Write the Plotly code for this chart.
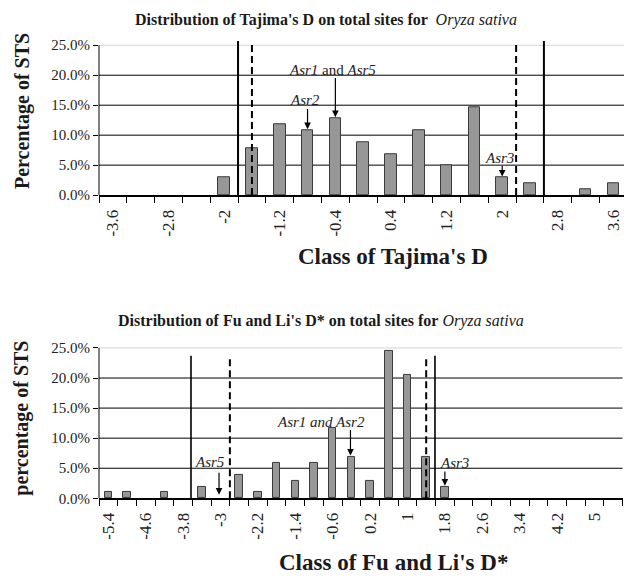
import plotly.graph_objects as go

# ---------------- data ----------------
taj_classes = ["-3.6", "-3.2", "-2.8", "-2.4", "-2", "-1.6", "-1.2", "-0.8", "-0.4", "0",
               "0.4", "0.8", "1.2", "1.6", "2", "2.4", "2.8", "3.2", "3.6"]
taj_pct = [0, 0, 0, 0, 2.94, 7.84, 11.76, 10.78, 12.75, 8.82,
           6.86, 10.78, 4.90, 14.71, 2.94, 1.96, 0, 0.98, 1.96]

fu_classes = ["-5.4", "-5", "-4.6", "-4.2", "-3.8", "-3.4", "-3", "-2.6", "-2.2", "-1.8",
              "-1.4", "-1", "-0.6", "-0.2", "0.2", "0.6", "1", "1.4", "1.8", "2.2",
              "2.6", "3", "3.4", "3.8", "4.2", "4.6", "5", "5.4"]
fu_pct = [0.98, 0.98, 0, 0.98, 0, 1.96, 0, 3.92, 0.98, 5.88,
          2.94, 5.88, 11.76, 6.86, 2.94, 24.51, 20.59, 6.86, 1.96, 0,
          0, 0, 0, 0, 0, 0, 0, 0]

y_ticks = [0, 5, 10, 15, 20, 25]
y_ticktext = ["0.0%", "5.0%", "10.0%", "15.0%", "20.0%", "25.0%"]

# critical-value lines (class-index positions)
taj_solid = [4.5, 15.5]
taj_dashed = [5.0, 14.5]
fu_solid = [4.42, 17.47]
fu_dashed = [6.5, 17.0]

# ---------------- figure ----------------
W, H = 624, 581
SERIF = "Liberation Serif"
BAR_FILL = "#979797"
BAR_LINE = "#3a3a3a"

fig = go.Figure()

taj_x = list(range(len(taj_classes)))
fu_x = list(range(len(fu_classes)))

def nz(vals):
    return [v if v > 0 else None for v in vals]

fig.add_trace(go.Bar(x=taj_x, y=nz(taj_pct), width=0.42,
                     marker=dict(color=BAR_FILL, line=dict(color=BAR_LINE, width=1)),
                     xaxis="x", yaxis="y", showlegend=False))
fig.add_trace(go.Bar(x=fu_x, y=nz(fu_pct), width=0.40,
                     marker=dict(color=BAR_FILL, line=dict(color=BAR_LINE, width=1)),
                     xaxis="x2", yaxis="y2", showlegend=False))

def py(px):
    return 1 - px / H

top_dom = [py(196.5), py(196.5 - 26 * 6.1)]
bot_dom = [py(505), py(505 - 26 * 6.12)]

def xaxis_cfg(classes, xr, dom, anchor):
    n = len(classes)
    labels_idx = list(range(0, n, 2))
    return dict(
        domain=dom, range=xr, anchor=anchor, showgrid=False, zeroline=False,
        showline=True, linecolor="black", linewidth=1.5,
        tickmode="array", tickvals=labels_idx,
        ticktext=[classes[i] for i in labels_idx], ticks="", tickangle=-90,
        tickfont=dict(family=SERIF, size=17, color="#222"),
        ticklabelstandoff=6,
        minor=dict(tickmode="array", tickvals=[i - 0.5 for i in range(n + 1)],
                   ticks="outside", ticklen=6, tickcolor="black", tickwidth=1, showgrid=False),
        fixedrange=True,
    )

def yaxis_cfg(dom, anchor):
    return dict(
        domain=dom, range=[0, 26], anchor=anchor, showgrid=False, zeroline=False,
        showline=False, tickmode="array", tickvals=y_ticks, ticktext=y_ticktext,
        ticks="outside", ticklen=5, tickcolor="black", tickwidth=1,
        tickfont=dict(family=SERIF, size=15, color="#222"), fixedrange=True,
    )

fig.update_layout(
    width=W, height=H, margin=dict(l=0, r=0, t=0, b=0),
    paper_bgcolor="white", plot_bgcolor="white",
    xaxis=xaxis_cfg(taj_classes, [-0.5, 18.38], [99 / W, 1.0], "y"),
    yaxis=yaxis_cfg(top_dom, "x"),
    xaxis2=xaxis_cfg(fu_classes, [-0.5, 27.5], [99 / W, 622.5 / W], "y2"),
    yaxis2=yaxis_cfg(bot_dom, "x2"),
    bargap=0, showlegend=False,
)

shapes = []
for xr, yr in (("x", "y"), ("x2", "y2")):
    for g in (5, 10, 15, 20):
        shapes.append(dict(type="line", xref=xr + " domain", yref=yr, x0=0, x1=1, y0=g, y1=g,
                           line=dict(color="black", width=1), layer="below"))
    shapes.append(dict(type="line", xref=xr + " domain", yref=yr, x0=0, x1=1, y0=25, y1=25,
                       line=dict(color="#d4d4d4", width=1), layer="below"))
    shapes.append(dict(type="line", xref=xr + " domain", yref=yr, x0=0, x1=0, y0=0, y1=25,
                       line=dict(color="black", width=1)))

for v in taj_solid:
    shapes.append(dict(type="line", xref="x", yref="y", x0=v, x1=v, y0=0, y1=25.7,
                       line=dict(color="black", width=2)))
for v in taj_dashed:
    shapes.append(dict(type="line", xref="x", yref="y", x0=v, x1=v, y0=0, y1=25.1,
                       line=dict(color="black", width=2, dash="7px,4px")))
for v in fu_solid:
    shapes.append(dict(type="line", xref="x2", yref="y2", x0=v, x1=v, y0=0, y1=23.7,
                       line=dict(color="black", width=1.6)))
for v in fu_dashed:
    shapes.append(dict(type="line", xref="x2", yref="y2", x0=v, x1=v, y0=0, y1=23.3,
                       line=dict(color="black", width=2, dash="7px,4px")))
fig.update_layout(shapes=shapes)

ann = []
def label(xr, yr, x, y, text):
    ann.append(dict(xref=xr, yref=yr, x=x, y=y, text=text, showarrow=False,
                    font=dict(family=SERIF, size=15, color="#222")))

def arrow(xr, yr, x, y0, y1):
    ann.append(dict(xref=xr, yref=yr, x=x, y=y1, ax=x, ay=y0, axref=xr, ayref=yr,
                    text="", showarrow=True, arrowhead=2, arrowsize=1.1, arrowwidth=1.2,
                    arrowcolor="black", standoff=0, startstandoff=0))

# top chart annotations
label("x", "y", 6.9, 15.9, "<i>Asr2</i>")
arrow("x", "y", 7, 14.6, 11.0)
label("x", "y", 7.9, 20.9, "<i>Asr1</i> and <i>Asr5</i>")
arrow("x", "y", 8, 19.8, 13.0)
label("x", "y", 13.9, 6.2, "<i>Asr3</i>")
arrow("x", "y", 14, 5.1, 3.1)

# bottom chart annotations
label("x2", "y2", 5.43, 6.0, "<i>Asr5</i>")
arrow("x2", "y2", 5.92, 4.5, 0.6)
label("x2", "y2", 11.4, 12.7, "<i>Asr1 and Asr2</i>")
arrow("x2", "y2", 12.95, 11.6, 7.1)
label("x2", "y2", 18.5, 5.9, "<i>Asr3</i>")
arrow("x2", "y2", 18.0, 4.7, 2.1)

def ptext(x, y, text, size, angle=0):
    ann.append(dict(xref="paper", yref="paper", x=x / W, y=py(y), text=text, showarrow=False,
                    textangle=angle, xanchor="center", yanchor="middle",
                    font=dict(family=SERIF, size=size, color="#1a1a1a")))

ptext(326, 18, "<b>Distribution of Tajima's D on total sites for </b> <i>Oryza sativa</i>", 16)
ptext(321, 325, "<b>Distribution of Fu and Li's D* on total sites for</b> <i>Oryza sativa</i>", 16)
ptext(22, 111, "<b>Percentage of STS</b>", 20, -90)
ptext(22, 424, "<b>percentage of STS</b>", 20, -90)
ptext(393, 259, "<b>Class of Tajima's D</b>", 23)
ptext(393, 570, "<b>Class of Fu and Li's D*</b>", 23)

fig.update_layout(annotations=ann)

fig.write_html("out.html", config={"displayModeBar": False})
